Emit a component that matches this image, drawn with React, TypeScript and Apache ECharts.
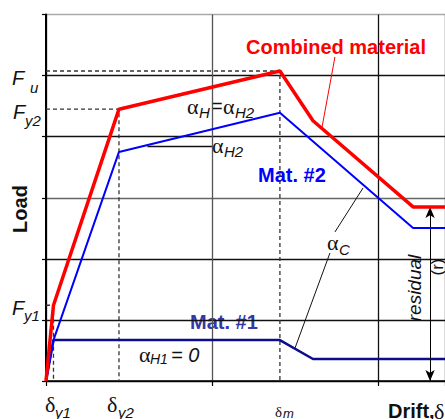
import React, { useEffect, useRef } from "react";
import * as echarts from "echarts";

// ---- data (chart units: drift 0..24, load 0..60) ----
const driftMax = 24;
const loadMax = 60;
const dY1 = 0.45;
const dY2 = 4.39;
const dM = 14.07;
const Fy1 = 12.4;
const Fy2 = 44.5;
const Fu = 50.75;

const mat1Drift = [0, 0.45, 14.07, 16.06, 24];
const mat1Load = [0, 6.7, 6.7, 3.6, 3.6];
const mat2Drift = [0, 0.45, 4.39, 14.07, 22.08, 24];
const mat2Load = [0, 6.7, 37.5, 43.9, 25.05, 25.05];
const combDrift = [0, 0.45, 4.39, 14.07, 16.06, 22.08, 24];
const combLoad = [0, 12.4, 44.5, 50.75, 42.6, 28.5, 28.5];

const residualDrift = 23.1;
const residualLoad = 28.5;

const combLeader = [[17.38, 53.05], [16.6, 41.5]];
const alphaCLeaderA = [[19.07, 31.6], [17.38, 24.4]];
const alphaCLeaderB = [[17.08, 20.96], [14.98, 5.4]];
const alphaH2Line = [[6.1, 38.4], [9.98, 38.4]];

const zip = (xs: number[], ys: number[]) => xs.map((x, i) => [x, ys[i]]);

const SANS = "Liberation Sans";
const SERIF = "Liberation Serif";

type F = { size: number; family?: string; style?: string; weight?: string; color?: string };
const T = (x: number, y: number, text: string, f: F, extra: any = {}) => ({
  type: "text",
  x,
  y,
  silent: true,
  ...extra,
  style: {
    text,
    fontSize: f.size,
    fontFamily: f.family || SANS,
    fontStyle: f.style || "normal",
    fontWeight: f.weight || "normal",
    fill: f.color || "#111",
    align: extra.align || "left",
    verticalAlign: "middle",
  },
});

const fBig: F = { size: 20, style: "italic" };
const sub: F = { size: 15, style: "italic" };
const greek: F = { size: 22, family: SERIF };

export default function App() {
  const ref = useRef<HTMLDivElement>(null);
  useEffect(() => {
    if (!ref.current) return;
    const chart = echarts.init(ref.current, undefined, { renderer: "svg" });
    const dashed = { color: "#333", width: 1.3, type: [4, 3] as any };
    const helper = (data: number[][], lineStyle: any, z = 3) => ({
      type: "line",
      data,
      showSymbol: false,
      symbol: "none",
      silent: true,
      z,
      lineStyle,
    });
    chart.setOption({
      animation: false,
      grid: { left: 46, right: 0, top: 14.5, bottom: 38 },
      xAxis: {
        type: "value",
        min: 0,
        max: driftMax,
        interval: 10,
        axisLabel: { show: false },
        axisLine: { show: true, lineStyle: { color: "#000", width: 1.5 } },
        axisTick: { show: true, length: 5, lineStyle: { color: "#000", width: 1.2 } },
        splitLine: { show: true, lineStyle: { color: ["#111", "#555", "#111", "#111"], width: 1.3 } },
      },
      yAxis: {
        type: "value",
        min: 0,
        max: loadMax,
        interval: 10,
        axisLabel: { show: false },
        axisLine: { show: true, lineStyle: { color: "#000", width: 2 } },
        axisTick: { show: true, length: 4, lineStyle: { color: "#000", width: 1.2 } },
        splitLine: {
          show: true,
          lineStyle: { color: ["#111", "#111", "#111", "#666", "#111", "#111", "#aaa"], width: 1.3 },
        },
      },
      series: [
        helper([[0, Fu], [dM, Fu], [dM, 0]], dashed, 2),
        helper([[0, Fy2], [dY2, Fy2], [dY2, 0]], dashed, 2),
        helper([[0, Fy1], [dY1, Fy1], [dY1, 0]], dashed, 2),
        helper(combLeader, { color: "#ff0000", width: 1 }, 2),
        helper(alphaCLeaderA, { color: "#111", width: 1 }, 2),
        helper(alphaCLeaderB, { color: "#111", width: 1 }, 2),
        helper(alphaH2Line, { color: "#111", width: 1.5 }, 2),
        {
          type: "line",
          name: "Mat. #1",
          data: zip(mat1Drift, mat1Load),
          showSymbol: false,
          symbol: "none",
          z: 4,
          lineStyle: { color: "#0c0c8c", width: 2.5 },
          markLine: {
            silent: true,
            symbol: ["arrow", "arrow"],
            symbolSize: [7, 11],
            label: { show: false },
            lineStyle: { color: "#000", width: 1, type: "solid" },
            data: [[{ coord: [residualDrift, 0] }, { coord: [residualDrift, residualLoad] }]],
          },
        },
        {
          type: "line",
          name: "Mat. #2",
          data: zip(mat2Drift, mat2Load),
          showSymbol: false,
          symbol: "none",
          z: 5,
          lineStyle: { color: "#0000ff", width: 2 },
        },
        {
          type: "line",
          name: "Combined material",
          data: zip(combDrift, combLoad),
          showSymbol: false,
          symbol: "none",
          z: 6,
          lineStyle: { color: "#ff0000", width: 3.5 },
        },
      ],
      graphic: [
        // y labels
        T(12, 78, "F", fBig), T(30, 87, "u", sub),
        T(13, 112, "F", fBig), T(25, 120, "y2", sub),
        T(12, 308, "F", fBig), T(24, 315, "y1", sub),
        // x labels
        T(45, 404, "δ", greek), T(55, 412, "y1", sub),
        T(107, 404, "δ", greek), T(118, 412, "y2", sub),
        T(275, 412, "δ", { size: 15, family: SERIF }), T(283, 413, "m", { size: 13, style: "italic" }),
        // alpha labels
        T(187, 106, "α", greek), T(199, 112, "H", sub), T(211, 106, "=", { size: 20 }),
        T(223, 106, "α", greek), T(235, 112, "H2", sub),
        T(212, 145, "α", greek), T(224, 151, "H2", sub),
        T(139, 354, "α", greek), T(150, 359, "H1", { size: 14, style: "italic" }),
        T(171, 355, "= 0", { size: 20, style: "italic" }),
        T(327, 242, "α", greek), T(339, 249, "C", sub),
        // series names
        T(246, 47, "Combined material", { size: 20, weight: "bold", color: "#ff0000" }),
        T(258, 175, "Mat. #2", { size: 20, weight: "bold", color: "#0000ff" }),
        T(190, 322, "Mat. #1", { size: 20, weight: "bold", color: "#3636a8" }),
        // axis titles
        T(20, 209, "Load", { size: 20, weight: "bold" }, { rotation: Math.PI / 2, align: "center" }),
        T(388, 411, "Drift,", { size: 20, weight: "bold" }),
        T(434, 411, "δ", greek),
        T(414, 288, "residual", { size: 19, style: "italic" }, { rotation: Math.PI / 2, align: "center" }),
        T(437, 267, "(r)", { size: 17 }, { rotation: Math.PI / 2, align: "center" }),
      ],
    });
    return () => chart.dispose();
  }, []);
  return (
    <div
      ref={ref}
      style={{ position: "fixed", left: 0, top: 0, width: 445, height: 419, background: "#fff" }}
    />
  );
}
